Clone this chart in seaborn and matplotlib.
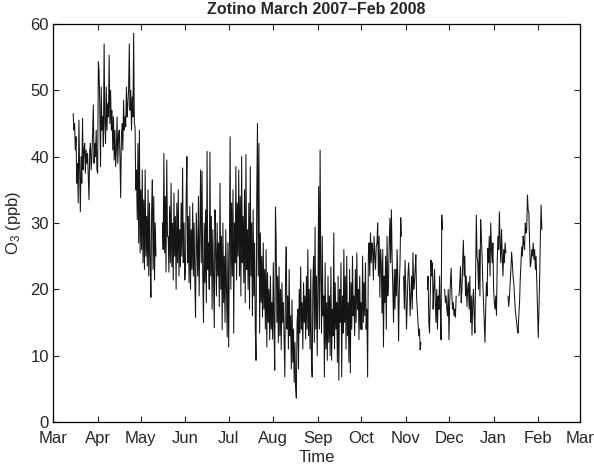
import numpy as np
import pandas as pd
import matplotlib
matplotlib.use('Agg')
import matplotlib.pyplot as plt
import matplotlib.dates as mdates
import seaborn as sns

nan = np.nan

# Zotino surface ozone (ppb), two readings a day (00h, 12h)
mar = [46.5, 44, 45, 41, 43, 36, 39, 33, 45.5, 38, 31.7, 40, 36, 45.8, 38, 41,
       42, 37.5, 41, 39, 40.5, 37, 33.5, 41, 42, 38, 40, 43.5, 47.8, 39, 42, 40,
       44, 38]
apr = [37.5, 54.3, 53, 47, 38.5, 50.5, 44, 46, 41.5, 57, 45, 42, 50.5, 44, 48, 46,
       55.3, 45, 50, 44, 47, 41, 46, 39.5, 44, 38.5, 41, 46, 39, 43, 44, 40,
       33.8, 43, 45, 41, 48.5, 44, 46, 44.5, 50.5, 46, 48, 50, 57, 47, 50, 44,
       49, 46, 58.6, 45, 44.5, 35, 38, 30.5, 42, 27, 44, 25.5]
may = [35, 26, 38, 24, 33.5, 23, 38, 25, 31, 23.5, 35, 22, 33, 24, 18.8, 32,
       36.5, 23, 34, 21.4, 30, 25, nan, nan, nan, nan, nan, nan, nan, nan,
       30, 26, 40.5, 25.5, 34, 22.6, 39.5, 28, 28, 22.6, 32.5, 24, 36, 23.4,
       30, 21.4, 34.5, 25, 31, 20, 33, 24, 35, 22, 29, 23.4, 33, 25, 38.3, 24,
       30, 21.4]
jun = [23, 34, 40, 24, 31, 21, 32.5, 20, 29, 23, 33, 22, 30, 21.4, 15.8, 31.5,
       27, 22, 34, 19, 29, 38, 24, 37.8, 22, 15, 30, 21, 32, 18, 40.8, 23,
       27, 20, 40.7, 22, 31, 17, 29, 21, 14.2, 32, 26, 19, 30, 22, 27, 17.4,
       36, 20, 28, 13.9, 30, 18, 25, 15, 29, 20, 12.8, 27]
jul = [11.3, 26, 43, 20, 33, 22, 35, 13.4, 30, 24, 38.5, 21.4, 33, 25, 38, 22,
       34, 19, 40, 24, 31, 21, 35, 18, 40.3, 23, 29, 20, 33, 17, 38.5, 22,
       30, 16, 32, 19, 27, 14, 9.3, 33.5, 45, 22, 42, 13.4, 28.5, 18, 25, 15.8,
       27, 17, 23, 14, 26, 11.3, 22.5, 15, 20, 12.4, 22, 14, 18, 12.5]
aug = [24, 14, 7.8, 32.4, 27, 15, 22, 12, 23.4, 13, 20, 10.9, 21, 15, 18, 12,
       6.8, 22, 26.4, 14, 19, 11, 23, 13, 16, 8, 18.4, 9, 14, 6, 12, 5.3,
       3.6, 15, 17, 8, 20, 13.4, 23.4, 14, 18, 11, 21, 15, 19, 12.5, 22, 14,
       26, 13, 20, 11, 23, 9, 6.8, 21, 25, 12, 29.4, 14, 22, 10]
sep = [20, 35.5, 14, 41, 22, 13.4, 28, 16, 19, 6.8, 24, 11, 18, 9.3, 22, 12,
       19, 10, 23.4, 9.3, 17, 13, 28.5, 11, 21, 14, 18, 9, 22, 6.3, 20, 15,
       24, 6.8, 19, 13.4, 26, 15, 22, 11, 25, 13, 18, 9, 23, 7.4, 21, 14,
       25, 16, 19, 13, 23, 15, 25.5, 17, 20, 12.4, 22, 14]
oct_ = [18, 13.9, 25, 15, 21, 16, 24, 14, 17, 6.8, 25, 27, 22, 28.5, 24, 27,
        26, 21.4, 28, 25, 23, 26.5, 27, 30, 22, 28, 18.8, 26, 24, 16.4, 26, 11.3,
        22, 18, 25, 14, 28, 19, 21, 27, 30.7, 24, 32, 25, 20, 15, 23, 17,
        23, 19, 26, 21, 12.2, 20, 24, 30.8, 28, nan, nan, 22, 17, 24.4]
nov = [20, 14, 18, 22, 24, 21, 16, 19, 22, 17, 25.5, 20, 21, 23, 25.2, 19,
       17, 15, 13, 14, 10.9, 12, nan, nan, nan, nan, nan, nan, nan, nan,
       20, 22, 15, 13.4, 19, 24.4, 22, 24, 17, 20, 23, 18, 15, 20, 14, 19,
       17, 22, 17, 12.4, 31.2, 29, nan, nan, 20, 18, 19, 17, 16, 20]
dec = [12.4, 18, 21, 23.2, 19, 17, 18, 16, 17, 15.8, 19, nan, nan, nan,
       19, 21, 23.4, 18, 20, 24, 27.4, 22, 25, 19, 22, 17.4, 20, 21, 17, 22,
       15, 19, 13.1, 18, 20, 16, 13.4, 22, 31.2, 25, 24, 20, 26, 19, 30.5, 28,
       25, 21, 18, 15, 12, 17, 21, 19, 26.2, 24, 28, 22, 30, 26, 24, 27]
jan = [20, 18, 17, 19, 16.1, 24, 28, 26, 31.7, 27, 24, 29, 25, 22, 26, 24,
       27, 25.5, nan, nan, 19, 17.4, 18.8, 21, 23, 25.6, 24, 22, 21, 19, 17, 16,
       15, 14, 13.4, 16, 18, 21.5, 24, 26.4, 25, 28, 27, 26, 30, 28.5, 29, 34.2,
       32, 31.5, 27, 23.4, 24, 26, 25, 27, 24.5, 26, 23, 25, 21, 17]
feb = [12.7, 17, 22, 28, 32.7, 29]

month_starts = ['2007-03-15', '2007-04-01', '2007-05-01', '2007-06-01',
                '2007-07-01', '2007-08-01', '2007-09-01', '2007-10-01',
                '2007-11-01', '2007-12-01', '2008-01-01', '2008-02-01']
month_values = [mar, apr, may, jun, jul, aug, sep, oct_, nov, dec, jan, feb]


def build_frame():
    parts = []
    for start, vals in zip(month_starts, month_values):
        t = pd.date_range(start, periods=len(vals), freq='12h')
        parts.append(pd.DataFrame({'time': t, 'o3': vals}))
    df = pd.concat(parts, ignore_index=True)
    # gaps in the record break the line
    df['seg'] = df['o3'].isna().cumsum()
    return df.dropna()


def main():
    df = build_frame()

    sns.set_style('ticks')
    plt.rcParams['font.family'] = ['Liberation Sans', 'DejaVu Sans']
    plt.rcParams['mathtext.default'] = 'regular'

    fig = plt.figure(figsize=(5.94, 4.65), dpi=100)
    ax = fig.add_axes([53 / 594, 43 / 465, 527 / 594, 398 / 465])

    sns.lineplot(data=df, x='time', y='o3', units='seg', estimator=None,
                 color='#151515', linewidth=0.75, ax=ax)

    ticks = pd.date_range('2007-03-01', '2008-03-01', freq='MS')
    ax.set_xlim(mdates.date2num(ticks[0]), mdates.date2num(ticks[-1]))
    ax.set_xticks(mdates.date2num(ticks))
    ax.xaxis.set_major_formatter(mdates.DateFormatter('%b'))
    ax.set_ylim(0, 60)
    ax.set_yticks(range(0, 61, 10))

    ax.tick_params(direction='in', top=True, right=True, length=4,
                   width=0.8, labelsize=12)
    ax.tick_params(axis='x', pad=6.5)
    ax.tick_params(axis='y', pad=3)
    for s in ax.spines.values():
        s.set_linewidth(0.9)
        s.set_color('black')

    ax.set_xlabel('Time', fontsize=12, labelpad=3)
    ax.set_ylabel('O$_3$ (ppb)', fontsize=12, labelpad=5)
    ax.set_title('Zotino March 2007\u2013Feb 2008', fontsize=11.5,
                 fontweight='bold', pad=7)

    fig.savefig('out.png', dpi=100)
    plt.close(fig)


if __name__ == "__main__":
    main()
